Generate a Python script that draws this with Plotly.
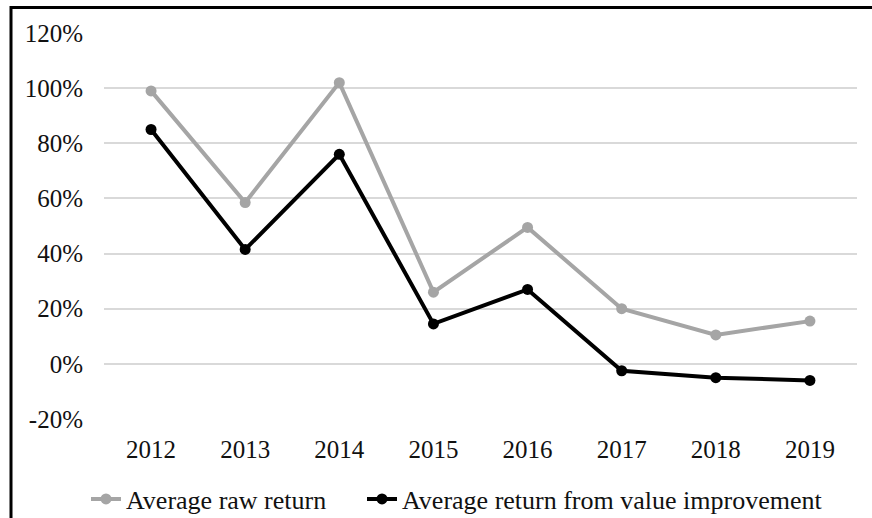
import plotly.graph_objects as go

years = ["2012", "2013", "2014", "2015", "2016", "2017", "2018", "2019"]
raw_return = [99, 58.5, 102, 26, 49.5, 20, 10.5, 15.5]
value_improvement = [85, 41.5, 76, 14.5, 27, -2.5, -5, -6]
y_ticks = [-20, 0, 20, 40, 60, 80, 100, 120]
y_tick_labels = ["-20%", "0%", "20%", "40%", "60%", "80%", "100%", "120%"]

W, H = 872, 518
L, R, T, B = 104, 15, 33, 99
pw, ph = W - L - R, H - T - B

fig = go.Figure()
fig.add_trace(go.Scatter(
    x=years, y=raw_return, name="Average raw return",
    mode="lines+markers",
    line=dict(color="#a5a5a5", width=4),
    marker=dict(color="#a5a5a5", size=11),
    legend="legend",
))
fig.add_trace(go.Scatter(
    x=years, y=value_improvement, name="Average return from value improvement",
    mode="lines+markers",
    line=dict(color="#000000", width=4),
    marker=dict(color="#000000", size=11),
    legend="legend2",
))

tick_font = dict(family="Liberation Serif", size=25, color="#111111")
legend_font = dict(family="Liberation Serif", size=26, color="#111111")

def px_x(x):
    return (x - L) / pw

def px_y(y):
    return (H - B - y) / ph

fig.update_layout(
    width=W, height=H,
    margin=dict(l=L, r=R, t=T, b=B, autoexpand=False),
    paper_bgcolor="white", plot_bgcolor="white",
    font=tick_font,
    showlegend=True,
    legend=dict(
        orientation="h", x=px_x(86), xanchor="left", y=px_y(499), yanchor="middle",
        font=legend_font, bgcolor="rgba(0,0,0,0)",
    ),
    legend2=dict(
        orientation="h", x=px_x(362), xanchor="left", y=px_y(499), yanchor="middle",
        font=legend_font, bgcolor="rgba(0,0,0,0)",
    ),
    xaxis=dict(
        type="category", range=[-0.5, 7.5], showgrid=False, zeroline=False,
        showline=False, ticks="outside", ticklen=8, tickcolor="rgba(0,0,0,0)",
        tickfont=tick_font,
    ),
    yaxis=dict(
        range=[-20, 120], tickvals=y_ticks, ticktext=y_tick_labels,
        showgrid=True, gridcolor="#d9d9d9", gridwidth=1.5, zeroline=False,
        showline=False, ticks="outside", ticklen=15, tickcolor="rgba(0,0,0,0)",
        tickfont=tick_font,
    ),
    shapes=[
        dict(type="line", xref="paper", yref="paper",
             x0=px_x(10), x1=px_x(880), y0=px_y(7.5), y1=px_y(7.5),
             line=dict(color="black", width=3)),
        dict(type="line", xref="paper", yref="paper",
             x0=px_x(11), x1=px_x(11), y0=px_y(6), y1=px_y(530),
             line=dict(color="black", width=3)),
    ],
)

fig.write_html("out.html", config={"displayModeBar": False},
               post_script="document.body.style.margin='0';")
